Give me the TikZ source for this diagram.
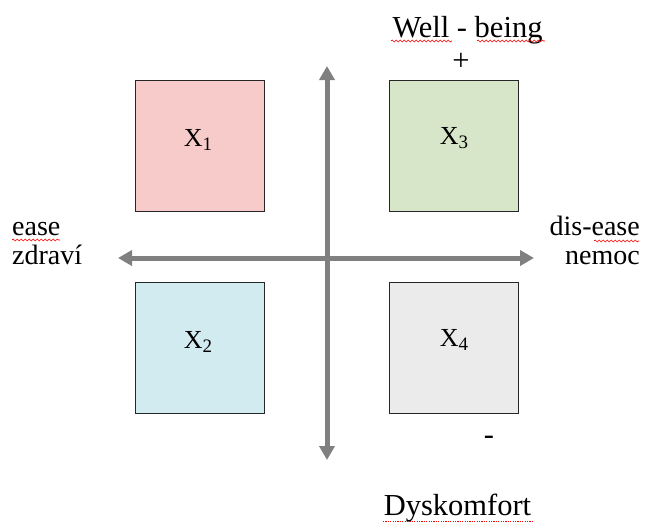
\documentclass[tikz,border=0pt]{standalone}
\usepackage{fontspec}
\setmainfont{Liberation Serif}
\usetikzlibrary{arrows.meta,decorations.pathmorphing}
\definecolor{cpink}{HTML}{F8CBCB}
\definecolor{cgreen}{HTML}{D7E6C8}
\definecolor{cblue}{HTML}{D2EBF0}
\definecolor{cgray}{HTML}{EBEBEB}
\definecolor{axisgray}{HTML}{808080}
\tikzset{
  quad/.style={draw=black!85, line width=1.1pt, minimum width=129pt, minimum height=131pt, inner sep=0pt, anchor=north west},
  lbl/.style={font=\fontsize{30.5}{32}\selectfont, inner sep=0pt},
  slbl/.style={font=\fontsize{28}{30}\selectfont, inner sep=0pt},
  xlbl/.style={font=\fontsize{26}{28}\selectfont, inner sep=0pt},
  axis/.style={draw=axisgray, line width=5pt, {Triangle[width=15pt,length=14pt]}-{Triangle[width=15pt,length=14pt]}, shorten <=0pt},
  squig/.style={draw=red, line width=0.6pt, decorate, decoration={snake, amplitude=1pt, segment length=4pt}}
}
\newcommand{\xsub}[1]{X{\fontsize{19}{19}\selectfont\raisebox{-4pt}{#1}}}
\begin{document}
\begin{tikzpicture}[x=1pt,y=-1pt]
\useasboundingbox (0,0) rectangle (645,523);
\node[quad, fill=cpink] (x1) at (135,80) {};
\node[quad, fill=cgreen] (x3) at (389,80) {};
\node[quad, fill=cblue] (x2) at (135,282) {};
\node[quad, fill=cgray] (x4) at (389,282) {};
\node[xlbl, anchor=base] (l1) at (198,146) {\xsub{1}};
\node[xlbl, anchor=base] (l3) at (454,144) {\xsub{3}};
\node[xlbl, anchor=base] (l2) at (198,348) {\xsub{2}};
\node[xlbl, anchor=base] (l4) at (454,346) {\xsub{4}};
\coordinate (vt) at (327,66);
\coordinate (vb) at (327,460);
\coordinate (hl) at (118,258);
\coordinate (hr) at (534,258);
\draw[axis] (vb) -- (vt);
\draw[axis] (hl) -- (hr);
\node[lbl, anchor=base] (wb) at (467.5,37) {Well - being};
\node[lbl] (plus) at (461,62) {+};
\node[slbl, anchor=base west] (ease) at (12,235) {ease};
\node[slbl, anchor=base west] (zd) at (12,264) {zdraví};
\node[slbl, anchor=base east] (dis) at (640,235) {dis-ease};
\node[slbl, anchor=base east] (nem) at (640,264) {nemoc};
\node[lbl] (minus) at (489,440) {-};
\node[lbl, anchor=base] (dys) at (457.5,515) {Dyskomfort};
\draw[squig] (391,41) -- (452,41);
\draw[squig] (477,41) -- (545,41);
\draw[squig] (12,240) -- (60,240);
\draw[squig] (594,241) -- (639,241);
\draw[red, line width=0.7pt, dash pattern=on 1.2pt off 1.2pt] (383,521) -- (532,521);
\end{tikzpicture}
\end{document}
